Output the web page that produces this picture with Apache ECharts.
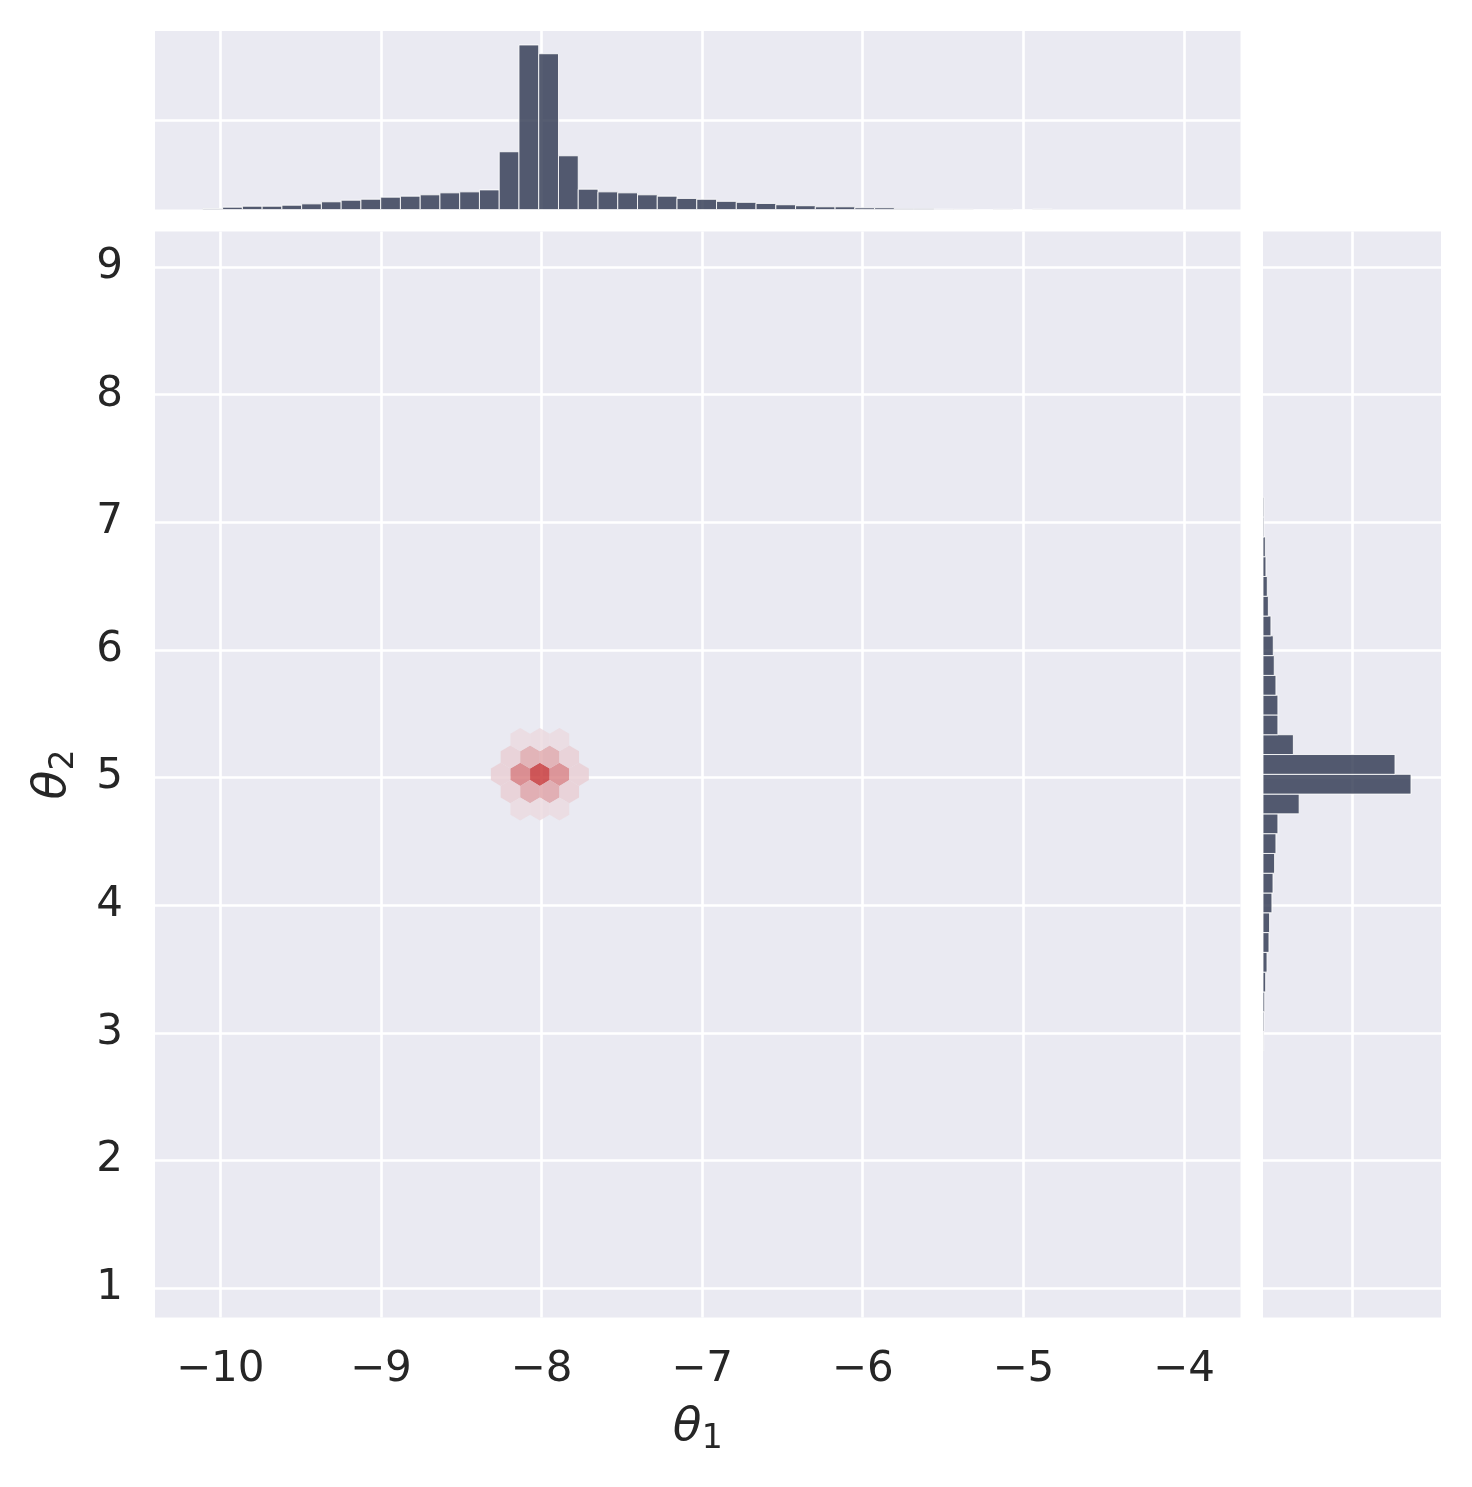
<!DOCTYPE html>
<html><head><meta charset="utf-8">
<script src="https://cdn.jsdelivr.net/npm/echarts@6/dist/echarts.min.js"></script>
<style>html,body{margin:0;padding:0;background:#fff}#c{width:1472px;height:1487px}</style>
</head><body><div id="c"></div>
<script>
// ---------------- data ----------------
const xTicks = [-10, -9, -8, -7, -6, -5, -4];
const yTicks = [1, 2, 3, 4, 5, 6, 7, 8, 9];
const xRange = [-10.406, -3.648];
const yRange = [0.769, 9.278];

// top marginal histogram of theta_1 (uniform bins)
const topBinStart = -10.108;
const topBinWidth = 0.123;
const topCounts = [0.011, 0.026, 0.037, 0.037, 0.048, 0.063, 0.086, 0.104, 0.115, 0.138,
  0.149, 0.164, 0.186, 0.197, 0.219, 0.645, 1.838, 1.740, 0.600, 0.227,
  0.197, 0.186, 0.164, 0.149, 0.124, 0.114, 0.091, 0.080, 0.068, 0.053,
  0.042, 0.030, 0.030, 0.019, 0.019, 0.008, 0.008, 0.003, 0.002, 0, 0.002, 0, 0.004];
const topMax = 1.994;

// right marginal histogram of theta_2 (uniform bins, from low to high)
const rightBinStart = 2.855;
const rightBinWidth = 0.155;
const rightCounts = [0.007, 0.011, 0.019, 0.030, 0.045, 0.067, 0.074, 0.100, 0.112, 0.130,
  0.145, 0.167, 0.405, 1.657, 1.478, 0.340, 0.167, 0.167, 0.145, 0.126,
  0.115, 0.089, 0.060, 0.048, 0.033, 0.026, 0.010, 0.010];
const rightMax = 1.993;

// hexbin cells: centre theta_1, centre theta_2, relative count
const hexX = [-8.254, -8.132, -8.010, -7.888, -7.766,
  -8.193, -8.071, -7.949, -7.827,
  -8.193, -8.071, -7.949, -7.827,
  -8.132, -8.010, -7.888,
  -8.132, -8.010, -7.888];
const hexY = [5.025, 5.025, 5.025, 5.025, 5.025,
  5.161, 5.161, 5.161, 5.161,
  4.889, 4.889, 4.889, 4.889,
  5.297, 5.297, 5.297,
  4.753, 4.753, 4.753];
const hexV = [12, 60, 100, 55, 12,
  12, 34, 34, 12,
  12, 37, 37, 12,
  5, 6, 5,
  5, 6, 5];
const hexW = 0.122;   // hexagon width (theta_1 units)
const hexSy = 0.272;  // hexbin vertical grid step (theta_2 units)

// ---------------- build ----------------
const topData = topCounts.map((c, i) => [topBinStart + i * topBinWidth, topBinStart + (i + 1) * topBinWidth, c]);
const rightData = rightCounts.map((c, i) => [rightBinStart + i * rightBinWidth, rightBinStart + (i + 1) * rightBinWidth, c]);
const hexData = hexX.map((x, i) => [x, hexY[i], hexV[i]]);

const TXT = '#262626';
const FONT = 'DejaVu Sans';
const BG = '#EAEAF2';
const BAR_FILL = 'rgba(44,52,77,0.8)';
const BAR_EDGE = 'rgba(255,255,255,0.85)';
const fmtMinus = v => String(v).replace('-', '\u2212');

const splitLine = { show: true, lineStyle: { color: '#ffffff', width: 2.6 } };
const hidden = { axisLine: { show: false }, axisTick: { show: false } };

const chart = echarts.init(document.getElementById('c'), null, { renderer: 'canvas' });
chart.setOption({
  backgroundColor: '#ffffff',
  animation: false,
  grid: [
    { left: 155, top: 231.5, width: 1085.5, height: 1086, show: true, backgroundColor: BG, borderWidth: 0, containLabel: false },
    { left: 155, top: 31, width: 1085.5, height: 178.5, show: true, backgroundColor: BG, borderWidth: 0, containLabel: false },
    { left: 1263, top: 231.5, width: 178, height: 1086, show: true, backgroundColor: BG, borderWidth: 0, containLabel: false }
  ],
  xAxis: [
    { gridIndex: 0, type: 'value', min: xRange[0], max: xRange[1], ...hidden,
      axisTick: { show: false, customValues: xTicks },
      axisLabel: { show: true, customValues: xTicks, formatter: fmtMinus, color: TXT, fontFamily: FONT, fontSize: 42, margin: 32 },
      splitLine,
      name: '{t|θ}{s|1}', nameLocation: 'middle', nameGap: 82,
      nameTextStyle: { rich: {
        t: { fontFamily: FONT, fontStyle: 'italic', fontSize: 47, lineHeight: 56, color: TXT, verticalAlign: 'middle' },
        s: { fontFamily: FONT, fontSize: 33, lineHeight: 30, color: TXT, verticalAlign: 'bottom' } } } },
    { gridIndex: 1, type: 'value', min: xRange[0], max: xRange[1], ...hidden,
      axisTick: { show: false, customValues: xTicks },
      axisLabel: { show: false, customValues: xTicks }, splitLine },
    { gridIndex: 2, type: 'value', min: 0, max: rightMax, ...hidden,
      axisTick: { show: false, customValues: [1] },
      axisLabel: { show: false, customValues: [1] }, splitLine }
  ],
  yAxis: [
    { gridIndex: 0, type: 'value', min: yRange[0], max: yRange[1], ...hidden,
      axisTick: { show: false, customValues: yTicks },
      axisLabel: { show: true, customValues: yTicks, formatter: fmtMinus, color: TXT, fontFamily: FONT, fontSize: 42, margin: 32, padding: [9, 0, 0, 0] },
      splitLine,
      name: '{t|θ}{s|2}', nameLocation: 'middle', nameGap: 74, nameRotate: 90,
      nameTextStyle: { rich: {
        t: { fontFamily: FONT, fontStyle: 'italic', fontSize: 47, lineHeight: 56, color: TXT, verticalAlign: 'middle' },
        s: { fontFamily: FONT, fontSize: 33, lineHeight: 30, color: TXT, verticalAlign: 'bottom' } } } },
    { gridIndex: 1, type: 'value', min: 0, max: topMax, ...hidden,
      axisTick: { show: false, customValues: [1] },
      axisLabel: { show: false, customValues: [1] }, splitLine },
    { gridIndex: 2, type: 'value', min: yRange[0], max: yRange[1], ...hidden,
      axisTick: { show: false, customValues: yTicks },
      axisLabel: { show: false, customValues: yTicks }, splitLine }
  ],
  visualMap: [{
    type: 'continuous', show: false, seriesIndex: 2, dimension: 2, min: 0, max: 100,
    inRange: { color: ['rgba(237,227,232,0.8)', 'rgba(198,47,47,0.8)'] }
  }],
  series: [
    { type: 'custom', name: 'theta1 hist', xAxisIndex: 1, yAxisIndex: 1, clip: true,
      data: topData, encode: { x: [0, 1], y: 2 },
      renderItem: (params, api) => {
        const a = api.coord([api.value(0), api.value(2)]);
        const b = api.coord([api.value(1), 0]);
        return { type: 'rect', shape: { x: a[0], y: a[1], width: b[0] - a[0], height: b[1] - a[1] },
          style: { fill: BAR_FILL, stroke: BAR_EDGE, lineWidth: 1 } };
      } },
    { type: 'custom', name: 'theta2 hist', xAxisIndex: 2, yAxisIndex: 2, clip: true,
      data: rightData, encode: { y: [0, 1], x: 2 },
      renderItem: (params, api) => {
        const a = api.coord([0, api.value(1)]);
        const b = api.coord([api.value(2), api.value(0)]);
        return { type: 'rect', shape: { x: a[0], y: a[1], width: b[0] - a[0], height: b[1] - a[1] },
          style: { fill: BAR_FILL, stroke: BAR_EDGE, lineWidth: 1 } };
      } },
    { type: 'custom', name: 'hexbin', xAxisIndex: 0, yAxisIndex: 0, clip: true,
      data: hexData, encode: { x: 0, y: 1 },
      renderItem: (params, api) => {
        const x = api.value(0), y = api.value(1);
        const hx = hexW / 2, h1 = hexSy / 6, h2 = hexSy / 3;
        const pts = [[x + hx, y - h1], [x + hx, y + h1], [x, y + h2], [x - hx, y + h1], [x - hx, y - h1], [x, y - h2]]
          .map(p => api.coord(p));
        return { type: 'polygon', shape: { points: pts }, style: { fill: api.visual('color') } };
      } }
  ]
});
</script></body></html>
